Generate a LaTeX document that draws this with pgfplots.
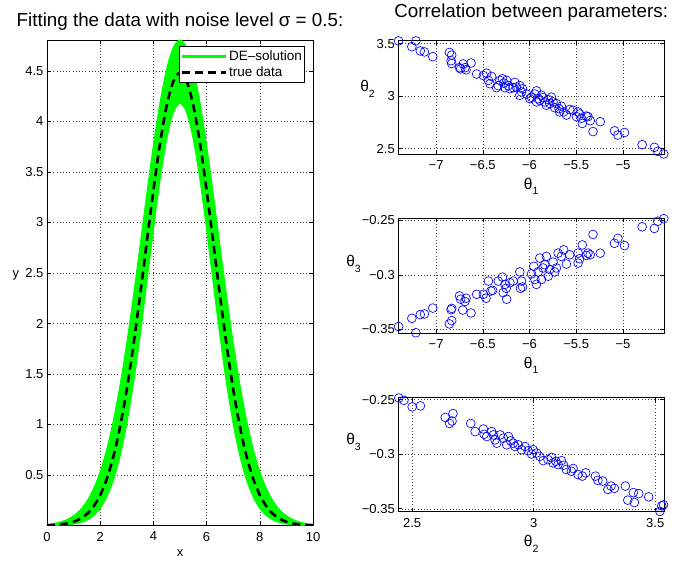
\documentclass[border=0pt]{standalone}
\usepackage{fontspec}
\setmainfont{Liberation Sans}
\usepackage{pgfplots}
\pgfplotsset{compat=1.18}
\definecolor{dgreen}{RGB}{0,255,0}
\definecolor{mblue}{RGB}{0,0,255}
\newcommand{\sub}[1]{\raisebox{-5.5pt}{\fontsize{10.5}{12}\selectfont #1}}
\pgfplotsset{
  mlab/.style={
    scale only axis, anchor=south west,
    axis line style={line width=0.8pt},
    tick style={black, line width=0.6pt},
    major tick length=4pt,
    grid=major,
    grid style={black!75, line width=0.5pt, dash pattern=on 0.8pt off 2.4pt},
    ticklabel style={font=\fontsize{13}{15}\selectfont},
    xticklabel style={yshift=-3pt},
    every axis x label/.style={at={(rel axis cs:0.5,0)}, anchor=base, inner sep=0pt, yshift=-35pt, font=\fontsize{15.5}{18}\selectfont},
    every axis title/.style={at={(0.5,1)}, anchor=base, inner sep=0pt, font=\fontsize{18.8}{21}\selectfont},
  },
  scat/.style={only marks, mark=o, mark size=4.4pt, mblue, line width=0.65pt},
}
\begin{document}
\begin{tikzpicture}
\useasboundingbox (0,0) rectangle (674pt,561pt);
% ---------------- left: fit ----------------
\begin{axis}[mlab, at={(47pt,35.5pt)}, width=266pt, height=485.5pt,
  xmin=0, xmax=10, ymin=0, ymax=4.807,
  xtick={0,2,4,6,8,10}, xticklabels={0,2,4,6,8,10},
  ytick={0.5,1,1.5,2,2.5,3,3.5,4,4.5}, yticklabels={0.5,1,1.5,2,2.5,3,3.5,4,4.5},
  xlabel={x},
  every axis x label/.style={at={(rel axis cs:0.5,0)}, anchor=base, inner sep=0pt, yshift=-31pt, font=\fontsize{13}{15}\selectfont},
  ylabel={y},
  every axis y label/.style={at={(rel axis cs:0,0.5)}, anchor=base east, inner sep=0pt, xshift=-27.7pt, yshift=4.75pt, font=\fontsize{13}{15}\selectfont},
  title={Fitting the data with noise level σ = 0.5:},
  title style={yshift=13.3pt},
  legend style={at={(1,1)}, anchor=north east, xshift=-8pt, yshift=-6pt, draw=black, line width=0.8pt, fill=white,
    font=\fontsize{13.5}{15}\selectfont, inner xsep=1pt, inner ysep=2.5pt, nodes={inner sep=1.6pt}, cells={anchor=west}, row sep=2pt},
  legend image code/.code={\draw[#1] (0pt,0pt) -- (44pt,0pt);},
]
\addplot[fill=dgreen, draw=dgreen, line width=1pt, smooth, forget plot] coordinates {
(0,0.01078) (0.25,0.01954) (0.5,0.0343) (0.75,0.0586) (1,0.0969) (1.25,0.1555) (1.5,0.2419) (1.75,0.3653)
(2,0.5347) (2.25,0.7595) (2.5,1.046) (2.75,1.398) (3,1.811) (3.25,2.277) (3.5,2.776) (3.75,3.283)
(4,3.766) (4.25,4.190) (4.5,4.522) (4.75,4.734) (5,4.807) (5.25,4.734) (5.5,4.522) (5.75,4.190)
(6,3.766) (6.25,3.283) (6.5,2.776) (6.75,2.277) (7,1.811) (7.25,1.398) (7.5,1.046) (7.75,0.7595)
(8,0.5347) (8.25,0.3653) (8.5,0.2419) (8.75,0.1555) (9,0.0969) (9.25,0.0586) (9.5,0.0343) (9.75,0.01954) (10,0.01078)
(10,0.00057) (9.75,0.00136) (9.5,0.00309) (9.25,0.00674) (9,0.0140) (8.75,0.0280) (8.5,0.0534) (8.25,0.0973)
(8,0.1697) (7.75,0.2831) (7.5,0.4516) (7.25,0.689) (7,1.006) (6.75,1.405) (6.5,1.876) (6.25,2.396)
(6,2.927) (5.75,3.420) (5.5,3.823) (5.25,4.087) (5,4.179) (4.75,4.087) (4.5,3.823) (4.25,3.420)
(4,2.927) (3.75,2.396) (3.5,1.876) (3.25,1.405) (3,1.006) (2.75,0.689) (2.5,0.4516) (2.25,0.2831)
(2,0.1697) (1.75,0.0973) (1.5,0.0534) (1.25,0.0280) (1,0.0140) (0.75,0.00674) (0.5,0.00309) (0.25,0.00136) (0,0.00057)
(0,0.01078)
};
\addlegendimage{dgreen, line width=3pt}
\addlegendentry{DE–solution}
\addplot[black, line width=2.6pt, dash pattern=on 8pt off 5pt, smooth] coordinates {
(0,0.00248) (0.25,0.00515) (0.5,0.0103) (0.75,0.01986) (1,0.0369) (1.25,0.0660) (1.5,0.1136) (1.75,0.1885)
(2,0.3012) (2.25,0.4636) (2.5,0.6873) (2.75,0.9814) (3,1.3499) (3.25,1.7883) (3.5,2.2819) (3.75,2.8046)
(4,3.3201) (4.25,3.7858) (4.5,4.1579) (4.75,4.3984) (5,4.4817) (5.25,4.3984) (5.5,4.1579) (5.75,3.7858)
(6,3.3201) (6.25,2.8046) (6.5,2.2819) (6.75,1.7883) (7,1.3499) (7.25,0.9814) (7.5,0.6873) (7.75,0.4636)
(8,0.3012) (8.25,0.1885) (8.5,0.1136) (8.75,0.0660) (9,0.0369) (9.25,0.01986) (9.5,0.0103) (9.75,0.00515) (10,0.00248)
};
\addlegendentry{true data}
\end{axis}
% ---------------- plot 1: theta1 vs theta2 ----------------
\begin{axis}[mlab, at={(398.3pt,406.7pt)}, width=265.7pt, height=113.6pt,
  xmin=-7.405, xmax=-4.560, ymin=2.447, ymax=3.527,
  xtick={-7,-6.5,-6,-5.5,-5}, xticklabels={−7,−6.5,−6,−5.5,−5},
  ytick={2.5,3,3.5}, yticklabels={2.5,3,3.5},
  xlabel={θ\sub{1}}, ylabel={θ\sub{2}},
  every axis y label/.style={at={(rel axis cs:0,1)}, anchor=base east, inner sep=0pt, xshift=-23.3pt, yshift=-51pt, font=\fontsize{15.5}{18}\selectfont},
  title={Correlation between parameters:},
  title style={yshift=22.7pt},
]
\addplot[scat] table {
-7.402 3.525
-7.26 3.47
-7.217 3.525
-7.17 3.43
-7.125 3.42
-7.036 3.375
-6.858 3.415
-6.833 3.39
-6.84 3.337
-6.833 3.31
-6.75 3.27
-6.737 3.26
-6.71 3.306
-6.69 3.27
-6.626 3.315
-6.68 3.25
-6.566 3.21
-6.495 3.196
-6.46 3.218
-6.44 3.15
-6.405 3.187
-6.424 3.118
-6.335 3.10
-6.29 3.165
-6.274 3.124
-6.263 3.08
-6.245 3.15
-6.227 3.10
-6.21 3.07
-6.175 3.08
-6.14 3.086
-6.104 3.10
-6.075 3.07
-6.104 3.008
-6.086 3.04
-5.979 2.99
-5.943 3.02
-5.926 3.05
-5.908 2.976
-5.89 2.96
-5.872 3.008
-5.855 2.986
-5.837 2.945
-5.82 2.914
-5.80 2.967
-5.783 2.93
-5.748 2.945
-5.73 2.89
-5.712 2.93
-5.684 2.88
-5.659 2.904
-5.634 2.85
-5.605 2.82
-5.57 2.873
-5.48 2.85
-5.463 2.83
-5.445 2.79
-5.435 2.74
-5.392 2.81
-5.374 2.805
-5.35 2.767
-5.32 2.663
-5.243 2.757
-5.09 2.67
-5.054 2.63
-4.983 2.654
-4.794 2.538
-4.663 2.513
-4.627 2.475
-4.563 2.45
-6.032 3.02
-5.997 2.976
-5.926 2.945
-5.766 2.99
-5.677 2.85
-5.534 2.866
-5.498 2.805
-6.157 3.13
-6.317 3.15
-6.353 3.08
};
\end{axis}
% ---------------- plot 2: theta1 vs theta3 ----------------
\begin{axis}[mlab, at={(398.3pt,227.7pt)}, width=265.7pt, height=115pt,
  xmin=-7.405, xmax=-4.560, ymin=-0.3535, ymax=-0.2482,
  xtick={-7,-6.5,-6,-5.5,-5}, xticklabels={−7,−6.5,−6,−5.5,−5},
  ytick={-0.35,-0.3,-0.25}, yticklabels={−0.35,−0.3,−0.25},
  xlabel={θ\sub{1}}, ylabel={θ\sub{3}},
  every axis y label/.style={at={(rel axis cs:0,1)}, anchor=base east, inner sep=0pt, xshift=-37.3pt, yshift=-48.7pt, font=\fontsize{15.5}{18}\selectfont},
]
\addplot[scat] table {
-7.402 -0.3473
-7.217 -0.353
-7.26 -0.3398
-7.17 -0.3364
-7.125 -0.3358
-7.036 -0.3304
-6.858 -0.3449
-6.833 -0.3419
-6.84 -0.3319
-6.833 -0.3307
-6.75 -0.3193
-6.737 -0.3223
-6.715 -0.3322
-6.69 -0.3244
-6.68 -0.3214
-6.626 -0.3349
-6.566 -0.3178
-6.495 -0.3178
-6.466 -0.3214
-6.44 -0.3057
-6.413 -0.3148
-6.395 -0.3142
-6.335 -0.3057
-6.29 -0.3021
-6.282 -0.3163
-6.263 -0.3087
-6.245 -0.3223
-6.25 -0.3123
-6.21 -0.3072
-6.175 -0.3057
-6.104 -0.2973
-6.086 -0.3057
-6.075 -0.3111
-6.097 -0.3123
-5.979 -0.2991
-5.954 -0.2922
-5.943 -0.3042
-5.926 -0.3087
-5.908 -0.2973
-5.89 -0.2846
-5.872 -0.3042
-5.855 -0.2937
-5.837 -0.2907
-5.82 -0.2831
-5.80 -0.3012
-5.783 -0.2952
-5.748 -0.2883
-5.73 -0.2973
-5.712 -0.2937
-5.694 -0.2801
-5.659 -0.2831
-5.634 -0.2771
-5.605 -0.2901
-5.57 -0.2816
-5.48 -0.2892
-5.48 -0.2801
-5.463 -0.2852
-5.435 -0.2726
-5.392 -0.2822
-5.374 -0.2801
-5.35 -0.2816
-5.32 -0.263
-5.243 -0.2801
-5.09 -0.2711
-5.054 -0.2666
-4.983 -0.2732
-4.794 -0.256
-4.663 -0.2575
-4.627 -0.2509
-4.563 -0.2485
};
\end{axis}
% ---------------- plot 3: theta2 vs theta3 ----------------
\begin{axis}[mlab, at={(398.3pt,49.3pt)}, width=265.7pt, height=114pt,
  xmin=2.443, xmax=3.536, ymin=-0.3527, ymax=-0.2482,
  xtick={2.5,3,3.5}, xticklabels={2.5,3,3.5},
  ytick={-0.35,-0.3,-0.25}, yticklabels={−0.35,−0.3,−0.25},
  xlabel={θ\sub{2}}, ylabel={θ\sub{3}},
  every axis y label/.style={at={(rel axis cs:0,1)}, anchor=base east, inner sep=0pt, xshift=-37.3pt, yshift=-47.3pt, font=\fontsize{15.5}{18}\selectfont},
]
\addplot[scat] table {
2.445 -0.2485
2.466 -0.2506
2.5 -0.2566
2.534 -0.2557
2.636 -0.2663
2.668 -0.2627
2.654 -0.2718
2.664 -0.2696
2.741 -0.2718
2.759 -0.2793
2.793 -0.2769
2.796 -0.2817
2.807 -0.2838
2.827 -0.2793
2.834 -0.2823
2.841 -0.2869
2.848 -0.2899
2.862 -0.2823
2.875 -0.2853
2.889 -0.2914
2.896 -0.2838
2.905 -0.2878
2.916 -0.2899
2.923 -0.2929
2.937 -0.2914
2.95 -0.2959
2.964 -0.2929
2.977 -0.2968
2.991 -0.2998
2.998 -0.2959
3.012 -0.2989
3.025 -0.302
3.039 -0.3059
3.059 -0.305
3.073 -0.3029
3.08 -0.308
3.091 -0.3065
3.1 -0.3095
3.114 -0.3059
3.123 -0.3101
3.134 -0.314
3.155 -0.3156
3.162 -0.3131
3.182 -0.3186
3.2 -0.3201
3.214 -0.3171
3.254 -0.3201
3.264 -0.324
3.284 -0.3246
3.305 -0.3322
3.318 -0.3292
3.332 -0.3313
3.377 -0.3292
3.387 -0.3421
3.414 -0.3443
3.41 -0.3352
3.432 -0.3361
3.473 -0.3391
3.519 -0.3524
3.527 -0.3473
3.534 -0.3464
};
\end{axis}
\end{tikzpicture}
\end{document}
